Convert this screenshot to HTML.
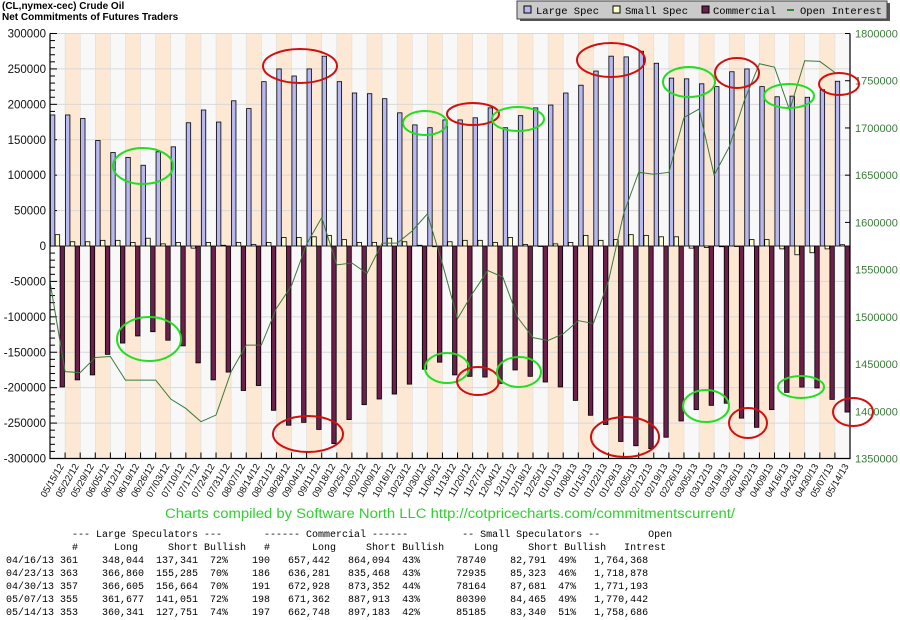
<!DOCTYPE html>
<html><head><meta charset="utf-8"><style>
body{margin:0;background:#fff;}
#wrap{position:relative;width:900px;height:620px;overflow:hidden;background:#fff;}
svg{position:absolute;left:0;top:0;}
pre{position:absolute;left:6px;top:529px;margin:0;font-family:"Liberation Mono",monospace;font-size:10px;line-height:13px;color:#000;letter-spacing:0px;}
</style></head><body>
<div id="wrap">
<svg id="chart" width="900" height="620" viewBox="0 0 900 620" font-family="'Liberation Sans',sans-serif">
<text x="2" y="9" font-size="10" font-weight="bold">(CL,nymex-cec) Crude Oil</text>
<text x="2" y="20" font-size="10" font-weight="bold">Net Commitments of Futures Traders</text>
<g>
<rect x="520" y="3" width="370" height="18" fill="#555"/>
<rect x="517" y="1" width="370" height="18" fill="#cacaca" stroke="#444" stroke-width="1"/>
<rect x="524" y="6" width="7" height="7" fill="#b8b8f0" stroke="#000"/>
<text x="536" y="14" font-family="'Liberation Mono',monospace" font-size="10.5">Large Spec</text>
<rect x="613" y="6" width="7" height="7" fill="#ffffcc" stroke="#000"/>
<text x="625" y="14" font-family="'Liberation Mono',monospace" font-size="10.5">Small Spec</text>
<rect x="702" y="6" width="7" height="7" fill="#6b1f4a" stroke="#000"/>
<text x="713" y="14" font-family="'Liberation Mono',monospace" font-size="10.5">Commercial</text>
<line x1="787" y1="10" x2="794" y2="10" stroke="#2e8b2e" stroke-width="2"/>
<text x="800" y="14" font-family="'Liberation Mono',monospace" font-size="10.5">Open Interest</text>
</g>
<g id="plot"></g>
<text x="450" y="518" text-anchor="middle" font-size="13.5" fill="#3c3" textLength="570" lengthAdjust="spacingAndGlyphs">Charts compiled by Software North LLC  http://cotpricecharts.com/commitmentscurrent/</text>
</svg>
<pre>           --- Large Speculators ---       ------ Commercial ------         -- Small Speculators --        Open
           #      Long     Short Bullish   #       Long     Short Bullish     Long     Short Bullish   Intrest
04/16/13 361    348,044  137,341  72%    190   657,442   864,094  43%      78740    82,791  49%   1,764,368
04/23/13 363    366,860  155,285  70%    186   636,281   835,468  43%      72935    85,323  46%   1,718,878
04/30/13 357    366,605  156,664  70%    191   672,928   873,352  44%      78164    87,681  47%   1,771,193
05/07/13 355    361,677  141,051  72%    198   671,362   887,913  43%      80390    84,465  49%   1,770,442
05/14/13 353    360,341  127,751  74%    197   662,748   897,183  42%      85185    83,340  51%   1,758,686</pre>
</div>
<script>
const dates=["05/15/12","05/22/12","05/29/12","06/05/12","06/12/12","06/19/12","06/26/12","07/03/12","07/10/12","07/17/12","07/24/12","07/31/12","08/07/12","08/14/12","08/21/12","08/28/12","09/04/12","09/11/12","09/18/12","09/25/12","10/02/12","10/09/12","10/16/12","10/23/12","10/30/12","11/06/12","11/13/12","11/20/12","11/27/12","12/04/12","12/11/12","12/18/12","12/25/12","01/01/13","01/08/13","01/15/13","01/22/13","01/29/13","02/05/13","02/12/13","02/19/13","02/26/13","03/05/13","03/12/13","03/19/13","03/26/13","04/02/13","04/09/13","04/16/13","04/23/13","04/30/13","05/07/13","05/14/13"];
const largeSpec=[185000,185000,180000,149000,132000,125000,114000,133000,140000,174000,192000,175000,205000,194000,232000,250000,240000,250000,268000,232000,216000,215000,208000,188000,171000,167000,178000,178000,181000,195000,167000,184000,195000,199000,216000,227000,247000,268000,267000,275000,258000,237000,236000,229000,225000,246000,250000,225000,210703,211585,209953,220626,232590];
const smallSpec=[16000,6000,6000,8000,8000,5000,11000,3000,5000,-3000,5000,1000,5000,2000,5000,12000,12000,13000,15000,9000,5000,5000,11000,6000,1000,-1000,6000,8000,8000,5000,12000,2000,0,3000,5000,15000,8000,9000,16000,15000,13000,13000,-3000,-2000,-1000,0,9000,9000,-4051,-12388,-9517,-4075,1802];
const commercial=[-199000,-189000,-182000,-153000,-137000,-127000,-121000,-133000,-141000,-165000,-189000,-178000,-204000,-197000,-232000,-253000,-249000,-259000,-279000,-245000,-224000,-216000,-209000,-195000,-174000,-164000,-182000,-184000,-185000,-194000,-175000,-184000,-192000,-199000,-218000,-239000,-252000,-276000,-282000,-286000,-270000,-247000,-231000,-225000,-222000,-243000,-256000,-231000,-206652,-199187,-200424,-216551,-234435];
const openInterest=[1537000,1442000,1441000,1457000,1458000,1433000,1433000,1433000,1413000,1403000,1389000,1396000,1442000,1470000,1470000,1509000,1533000,1577000,1605000,1555000,1557000,1546000,1578000,1578000,1591000,1609000,1556000,1498000,1525000,1549000,1542000,1499000,1478000,1475000,1482000,1496000,1493000,1538000,1609000,1653000,1651000,1653000,1711000,1720000,1650000,1680000,1729000,1768000,1764368,1718878,1771193,1770442,1758686];
const leftTicks=[300000,250000,200000,150000,100000,50000,0,-50000,-100000,-150000,-200000,-250000,-300000];
const rightTicks=[1800000,1750000,1700000,1650000,1600000,1550000,1500000,1450000,1400000,1350000];

const NS="http://www.w3.org/2000/svg";
const plot=document.getElementById('plot');
const X0=50,X1=850,Y0=33.5,Y1=458.5,N=dates.length,W=(X1-X0)/N;
const xg=i=>X0+i*W;
const yL=v=>246-v*(212.5/300000);
const yR=v=>Y1-(v-1350000)*(Y1-Y0)/450000;
function mk(tag,attrs){const e=document.createElementNS(NS,tag);for(const k in attrs)e.setAttribute(k,attrs[k]);plot.appendChild(e);return e;}

for(let i=0;i<N;i++){
  const e=mk('rect',{x:xg(i),y:Y0,width:W,height:Y1-Y0,fill:i%2?'#fde9d3':'#f8f8f8'});
  
  
  const l=mk('line',{x1:xg(i),y1:Y0,x2:xg(i),y2:Y1,stroke:'#ddd','stroke-width':0.6});
  
  
}
leftTicks.forEach(t=>{
  const g=mk('line',{x1:X0,x2:X1,y1:yL(t),y2:yL(t),stroke:'#d8d8d8','stroke-width':1});
  
  
  const tx=mk('text',{x:46,y:yL(t)+4,'text-anchor':'end','font-size':11.5,fill:'#111'});
  tx.textContent=t;
  
  
});
for(let v=-300000;v<=300000;v+=10000){
  const m=mk('line',{x1:X0,x2:X0+(v%50000===0?7:5),y1:yL(v),y2:yL(v),stroke:'#000'});
  
  
}
rightTicks.forEach(t=>{
  const tx=mk('text',{x:855,y:yR(t)+4,'font-size':11,fill:'#3a7a3a'});
  tx.textContent=t;
  
  
  const m=mk('line',{x1:X1-5,x2:X1,y1:yR(t),y2:yR(t),stroke:'#000'});
  
  
});
function bar(v,x,fill,name){
  const y0=yL(0),y=yL(v);
  const r=mk('rect',{x:x,y:Math.min(y,y0),width:W/3-0.6,height:Math.max(Math.abs(y-y0),0.5),fill:fill,stroke:'#000','stroke-width':0.8});
  
  
}
for(let i=0;i<N;i++){
  bar(largeSpec[i],xg(i)+0.4,'#b8b8f0','bar-large-spec');
  bar(smallSpec[i],xg(i)+W/3+0.2,'#ffffcc','bar-small-spec');
  bar(commercial[i],xg(i)+2*W/3,'#6b1f4a','bar-commercial');
}
const pts=openInterest.map((v,i)=>xg(i)+','+yR(v)).join(' ');
const pl=mk('polyline',{points:pts,fill:'none',stroke:'#3a7a3a','stroke-width':1});


const ax=mk('path',{d:`M${X0} ${Y0}V${Y1}H${X1}V${Y0}`,fill:'none',stroke:'#000','stroke-width':1.2});


for(let i=0;i<N;i++){
  const tk=mk('line',{x1:xg(i+1),x2:xg(i+1),y1:Y1-6,y2:Y1,stroke:'#000'});
  
  
  const xx=xg(i+1)-1, yy=466;
  const t=mk('text',{x:xx,y:yy,'text-anchor':'end','font-size':9.5,fill:'#111',transform:`rotate(-60 ${xx} ${yy})`});
  t.textContent=dates[i];
  
  
}
const ells=[[300,66,37,17,'r'],[143,166,30,18,'g'],[425,123,22,12,'g'],[473,114,26,11,'r'],[518,119,26,12,'g'],[611,60,34,17,'r'],[689,82,26,15,'g'],[737,73,22,15,'r'],[789,96,25,12,'g'],[839,84,20,11,'r'],[149,339,32,22,'g'],[308,434,35,18,'r'],[447,368,22,15,'g'],[478,381,21,14,'r'],[519,372,22,15,'g'],[625,437,34,20,'r'],[706,406,23,16,'g'],[748,423,19,15,'r'],[801,387,23,11,'g'],[853,412,20,14,'r']];
ells.forEach(e=>{
  const el=mk('ellipse',{cx:e[0],cy:e[1],rx:e[2],ry:e[3],fill:'none',stroke:e[4]==='r'?'#d01010':'#22dd22','stroke-width':2});
  
  
});
</script>
</body></html>
